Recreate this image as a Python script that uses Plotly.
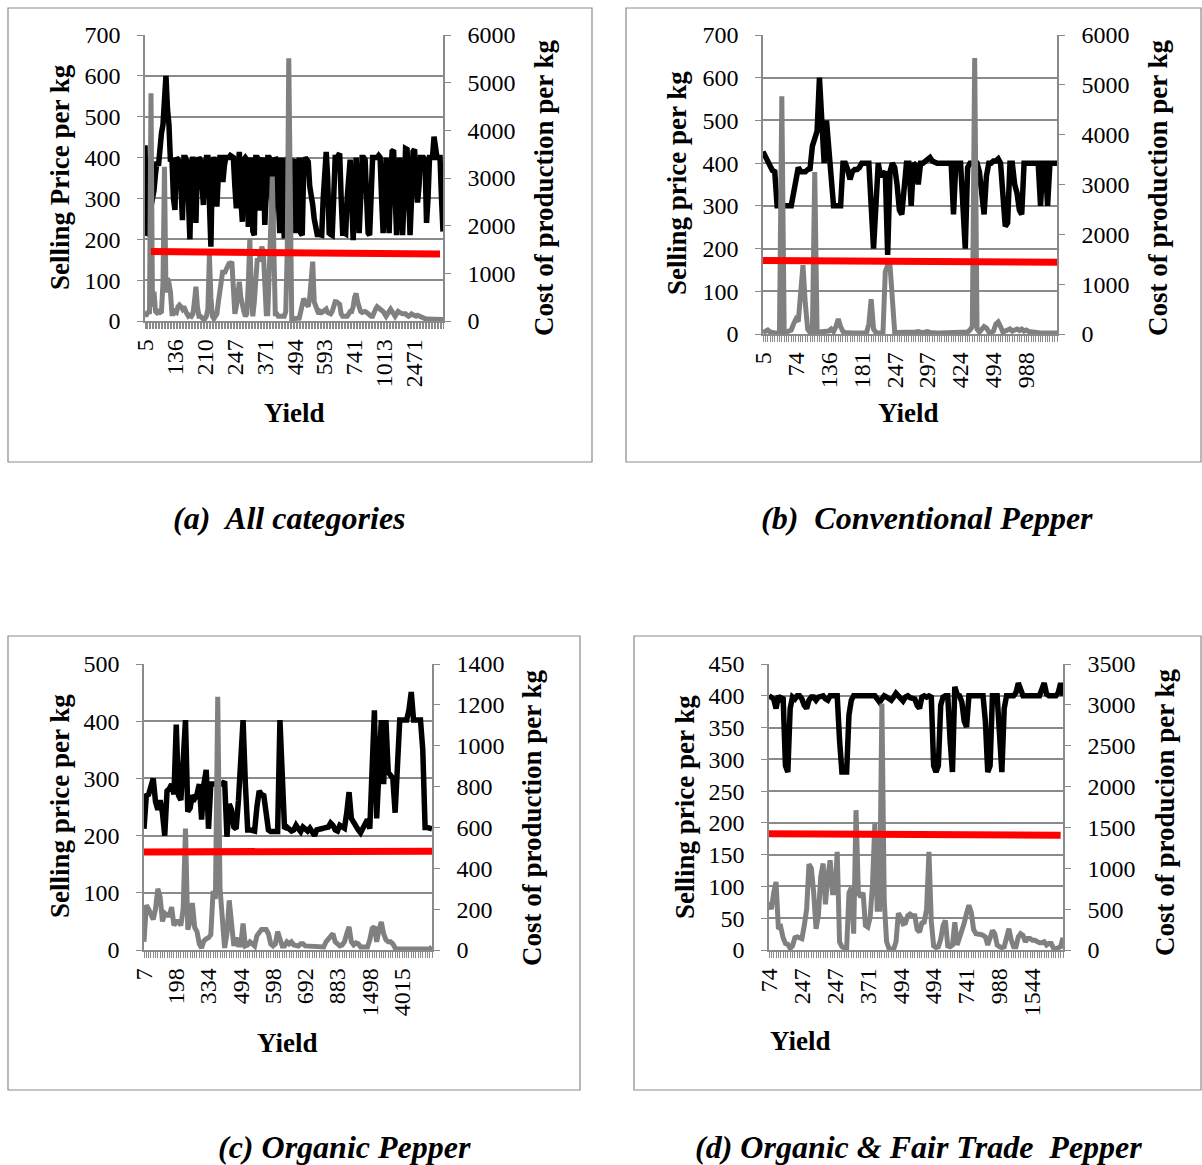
import plotly.graph_objects as go

W, H = 1202, 1165

# ---------------- DATA ----------------
# (a) All categories
a_labels = ["5", "136", "210", "247", "371", "494", "593", "741", "1013", "2471"]
a_price = [430,210,215,260,280,300,320,360,390,380,
           440,460,480,540,600,520,480,390,400,300,
           272,400,395,390,330,247,400,400,390,260,
           200,390,400,390,240,380,400,395,330,284,
           380,400,400,300,182,390,400,390,280,360,
           400,400,340,380,400,400,400,405,400,400,
           330,276,360,414,300,243,395,400,395,230,
           360,400,220,210,400,400,395,270,380,400,
           235,330,400,400,395,230,350,400,395,290,
           215,400,260,202,380,400,395,250,215,390,
           395,215,380,400,215,210,380,400,395,390,
           330,290,284,250,215,212,212,210,210,300,
           400,414,350,215,212,210,300,400,400,405,
           410,300,215,215,213,300,380,395,300,198,
           320,400,300,215,300,400,400,395,300,215,
           210,320,400,400,400,400,405,400,300,215,
           300,400,300,215,330,415,418,300,210,300,
           400,300,210,300,422,420,300,210,300,415,
           420,350,290,330,400,400,400,395,240,300,
           400,400,400,451,410,400,400,400,300,219]
a_cost = [125,130,200,150,4776,300,615,200,170,200,
          180,200,800,3237,600,895,800,600,150,150,
          200,180,300,335,300,250,300,200,150,100,
          120,100,150,400,720,300,100,100,50,40,
          50,100,250,1384,500,100,50,100,150,400,
          600,900,1070,1000,1060,1100,1200,1200,1245,700,
          150,300,500,825,500,300,200,100,150,800,
          1734,600,100,400,1000,1315,1250,1400,1560,1450,
          800,150,150,900,2000,3028,1200,150,150,100,
          100,100,100,100,200,1500,5510,900,50,50,
          50,50,50,60,200,350,470,400,350,300,
          500,900,1245,400,300,200,150,200,180,200,
          220,250,180,150,150,200,300,405,400,380,
          350,150,100,100,100,100,150,200,200,300,
          500,580,400,250,200,180,200,200,180,150,
          120,100,100,200,250,300,280,270,250,200,
          150,100,150,200,250,200,150,100,150,200,
          180,150,150,150,150,120,100,120,150,130,
          100,100,120,100,80,70,60,50,40,40,
          30,30,20,20,20,20,20,20,20,30]
a_trend_idx = [4, 197]
a_trend = [1457, 1406]

# (b) Conventional Pepper
b_labels = ["5", "74", "136", "181", "247", "297", "424", "494", "988"]
b_price = [427,415,400,390,383,380,300,300,300,300,
           300,300,300,330,370,390,380,380,380,385,
           387,440,460,475,600,480,400,500,420,340,
           300,300,300,300,400,400,385,362,380,385,
           385,390,400,400,400,400,300,200,300,400,
           370,375,380,185,380,400,390,350,290,280,
           350,400,400,300,400,395,350,400,400,405,
           410,413,405,402,400,400,400,400,400,400,
           400,280,400,400,400,300,200,390,400,400,
           400,400,380,330,280,370,400,400,405,405,
           410,400,300,252,260,400,400,350,330,290,
           280,400,400,400,400,400,400,400,300,400,
           400,300,400,400,400,400]
b_cost = [30,60,80,40,20,20,20,30,4770,30,
          40,60,80,200,300,250,900,1380,600,100,
          30,40,3250,30,40,40,50,40,60,100,
          50,150,300,150,50,30,20,20,20,20,
          20,20,20,20,20,200,700,100,30,20,
          20,20,1250,1380,1380,700,30,30,30,30,
          30,30,30,20,20,40,50,30,20,40,
          50,30,20,20,20,20,20,20,20,20,
          20,20,20,20,20,20,20,40,80,150,
          5540,100,40,80,150,120,40,30,60,200,
          240,150,40,60,70,100,60,90,100,70,
          100,60,80,50,40,50,40,20,20,20,
          20,10,10,10,10,20]
b_trend_idx = [0, 125]
b_trend = [1474, 1440]

# (c) Organic Pepper
c_labels = ["7", "198", "334", "494", "598", "692", "883", "1498", "4015"]
c_price = [212,270,272,285,300,259,245,262,240,200,
           278,282,290,272,394,270,262,330,402,242,
           248,270,265,272,290,228,290,315,212,290,
           290,290,290,290,290,295,198,255,245,215,
           212,262,330,402,290,210,210,208,208,250,
           278,272,270,240,210,207,207,207,207,402,
           300,212,215,210,208,210,218,212,207,215,
           210,208,213,205,200,210,212,212,213,214,
           215,222,218,210,208,218,215,213,240,276,
           230,222,215,210,205,212,222,228,212,300,
           419,230,300,402,290,402,311,305,300,240,
           330,402,402,402,402,420,451,402,402,402,
           402,350,214,214,212,212]
c_cost = [40,219,200,180,150,200,300,260,140,180,
          170,170,210,120,140,140,120,200,595,100,
          140,230,110,90,30,10,45,55,60,75,
          290,250,1240,300,150,10,80,243,130,20,
          60,25,25,130,20,25,40,25,20,70,
          90,100,100,100,80,30,20,30,90,60,
          20,20,40,30,40,25,20,20,30,30,
          20,20,20,15,15,15,15,15,15,40,
          55,60,80,40,25,20,25,40,80,113,
          40,25,35,30,15,15,15,15,50,105,
          115,40,100,137,80,50,40,40,30,10,
          5,5,5,5,5,5,5,5,5,5,
          5,5,5,5,5,15]
c_trend_idx = [0, 125]
c_trend = [480, 484]

# (d) Organic & Fair Trade Pepper
d_labels = ["74", "247", "247", "371", "494", "494", "741", "988", "1544"]
d_price = [400,398,395,380,400,395,398,290,280,380,
           398,395,400,400,395,385,380,393,398,398,
           393,398,400,400,395,393,400,400,400,400,
           330,280,280,280,370,393,400,400,400,400,
           400,400,400,400,400,400,395,390,395,400,
           398,396,393,398,404,400,396,392,398,400,
           397,397,395,385,380,398,400,398,400,398,
           290,280,290,385,398,400,400,330,280,414,
           402,400,390,360,351,400,400,400,400,400,
           400,400,360,280,290,400,400,400,340,280,
           380,400,400,400,400,405,420,410,400,400,
           400,400,400,400,400,400,410,420,403,400,
           400,400,400,405,420,400]
d_cost = [590,500,700,833,260,280,150,80,70,20,
          50,150,160,150,140,300,500,1050,1000,700,
          260,420,900,1058,560,900,1098,700,700,1200,
          100,40,20,10,700,760,200,1711,700,650,
          700,300,280,400,800,1547,500,500,3017,600,
          100,20,10,10,100,450,400,320,330,420,
          440,420,420,250,220,330,340,500,1200,350,
          50,30,40,130,300,360,50,40,60,340,
          60,150,200,330,450,547,460,250,200,200,
          190,180,160,60,180,240,200,60,40,30,
          40,160,260,120,40,40,160,200,180,100,
          140,140,120,120,100,90,90,100,60,80,
          80,20,15,30,40,150]
d_trend_idx = [0, 124]
d_trend = [1423, 1404]

# ---------------- LAYOUT HELPERS ----------------
def fx(x):
    return x / W

def fy(y):
    return 1 - y / H

GRAY = "#8a8a8a"
SERIF = "Liberation Serif"

panels = [
    dict(labels=a_labels, step=20, price=a_price, cost=a_cost, tidx=a_trend_idx, trend=a_trend,
         xdom=(145, 443), ydom=(35, 321), lmax=700, ldt=100, rmax=6000, rdt=1000,
         box=(8, 8, 592, 462),
         ltitle="Selling Price per kg", ltpos=(60, 177),
         rtitle="Cost of production per kg", rtpos=(544, 188),
         xtpos=(294, 413), cap="(a)  All categories", cappos=(289, 518)),
    dict(labels=b_labels, step=14, price=b_price, cost=b_cost, tidx=b_trend_idx, trend=b_trend,
         xdom=(763, 1057), ydom=(35, 334), lmax=700, ldt=100, rmax=6000, rdt=1000,
         box=(626, 8, 1201, 462),
         ltitle="Selling price per kg", ltpos=(677, 183),
         rtitle="Cost of production per kg", rtpos=(1158, 188),
         xtpos=(908, 413), cap="(b)  Conventional Pepper", cappos=(927, 518)),
    dict(labels=c_labels, step=14, price=c_price, cost=c_cost, tidx=c_trend_idx, trend=c_trend,
         xdom=(144, 432), ydom=(664, 950), lmax=500, ldt=100, rmax=1400, rdt=200,
         box=(8, 636, 580, 1090),
         ltitle="Selling price per kg", ltpos=(60, 806),
         rtitle="Cost of production per kg", rtpos=(532, 818),
         xtpos=(287, 1043), cap="(c) Organic Pepper", cappos=(344, 1147)),
    dict(labels=d_labels, step=14, price=d_price, cost=d_cost, tidx=d_trend_idx, trend=d_trend,
         xdom=(769, 1063), ydom=(664, 950), lmax=450, ldt=50, rmax=3500, rdt=500,
         box=(634, 636, 1201, 1090),
         ltitle="Selling price per kg", ltpos=(685, 807),
         rtitle="Cost of producion per kg", rtpos=(1165, 812),
         xtpos=(800, 1041), cap="(d) Organic & Fair Trade  Pepper", cappos=(918, 1147)),
]

fig = go.Figure()
layout = dict(template="none", width=W, height=H, margin=dict(l=0, r=0, t=0, b=0, pad=0),
              paper_bgcolor="white", plot_bgcolor="white", showlegend=False)
annotations = []
shapes = []

tickfont = dict(family=SERIF, size=24, color="black")
titlefont = dict(family=SERIF, size=27, color="black", weight="bold")
capfont = dict(family=SERIF, size=32, color="black", weight="bold", style="italic")

for p, pn in enumerate(panels):
    xn = p + 1
    yl = 2 * p + 1
    yr = 2 * p + 2
    xref = "x" if xn == 1 else f"x{xn}"
    ylref = "y" if yl == 1 else f"y{yl}"
    yrref = f"y{yr}"
    n = len(pn["price"])
    idx = list(range(n))

    fig.add_trace(go.Scatter(x=idx, y=pn["price"], mode="lines", xaxis=xref, yaxis=ylref,
                             line=dict(color="black", width=5.5), hoverinfo="skip"))
    fig.add_trace(go.Scatter(x=idx, y=pn["cost"], mode="lines", xaxis=xref, yaxis=yrref,
                             line=dict(color="#808080", width=5), hoverinfo="skip"))
    fig.add_trace(go.Scatter(x=pn["tidx"], y=pn["trend"], mode="lines", xaxis=xref, yaxis=yrref,
                             line=dict(color="#ff0000", width=7), hoverinfo="skip"))

    ticktext = []
    for i in idx:
        if i % pn["step"] == 0 and i // pn["step"] < len(pn["labels"]):
            ticktext.append(pn["labels"][i // pn["step"]])
        else:
            ticktext.append("")

    x0, x1 = pn["xdom"]
    y0, y1 = pn["ydom"]
    layout["xaxis" if xn == 1 else f"xaxis{xn}"] = dict(
        domain=[fx(x0), fx(x1)], anchor=ylref, range=[0, n - 1], automargin=False,
        tickmode="array", tickvals=idx, ticktext=ticktext, tickangle=-90,
        ticks="outside", ticklen=6, tickwidth=1, tickcolor=GRAY,
        showline=True, linecolor=GRAY, linewidth=1.5, showgrid=False, zeroline=False,
        tickfont=tickfont, ticklabelstandoff=1, fixedrange=True)
    layout["yaxis" if yl == 1 else f"yaxis{yl}"] = dict(
        domain=[fy(y1), fy(y0)], anchor=xref, range=[0, pn["lmax"]], automargin=False,
        tickmode="linear", tick0=0, dtick=pn["ldt"],
        ticks="outside", ticklen=6, tickcolor=GRAY, showline=True, linecolor=GRAY, linewidth=1.5,
        showgrid=True, gridcolor=GRAY, gridwidth=1.5, zeroline=False,
        tickfont=tickfont, ticklabelstandoff=12, fixedrange=True)
    layout[f"yaxis{yr}"] = dict(
        overlaying=ylref, side="right", anchor=xref, range=[0, pn["rmax"]], automargin=False,
        tickmode="linear", tick0=0, dtick=pn["rdt"],
        ticks="outside", ticklen=6, tickcolor=GRAY, showline=True, linecolor=GRAY, linewidth=1.5,
        showgrid=False, zeroline=False, tickfont=tickfont, ticklabelstandoff=12, fixedrange=True)

    bx0, by0, bx1, by1 = pn["box"]
    shapes.append(dict(type="rect", xref="paper", yref="paper",
                       x0=fx(bx0), x1=fx(bx1), y0=fy(by1), y1=fy(by0),
                       line=dict(color=GRAY, width=1.2), layer="below"))

    annotations.append(dict(text=pn["ltitle"], x=fx(pn["ltpos"][0]), y=fy(pn["ltpos"][1]),
                            xref="paper", yref="paper", showarrow=False, textangle=-90,
                            xanchor="center", yanchor="middle", font=titlefont))
    annotations.append(dict(text=pn["rtitle"], x=fx(pn["rtpos"][0]), y=fy(pn["rtpos"][1]),
                            xref="paper", yref="paper", showarrow=False, textangle=-90,
                            xanchor="center", yanchor="middle", font=titlefont))
    annotations.append(dict(text="Yield", x=fx(pn["xtpos"][0]), y=fy(pn["xtpos"][1]),
                            xref="paper", yref="paper", showarrow=False,
                            xanchor="center", yanchor="middle", font=titlefont))
    annotations.append(dict(text=pn["cap"], x=fx(pn["cappos"][0]), y=fy(pn["cappos"][1]),
                            xref="paper", yref="paper", showarrow=False,
                            xanchor="center", yanchor="middle", font=capfont))

layout["annotations"] = annotations
layout["shapes"] = shapes
fig.update_layout(**layout)
fig.write_html("out.html", config={"displayModeBar": False},
               post_script="document.body.style.margin='0px';document.body.style.padding='0px';"
                           "document.documentElement.style.overflow='hidden';")
